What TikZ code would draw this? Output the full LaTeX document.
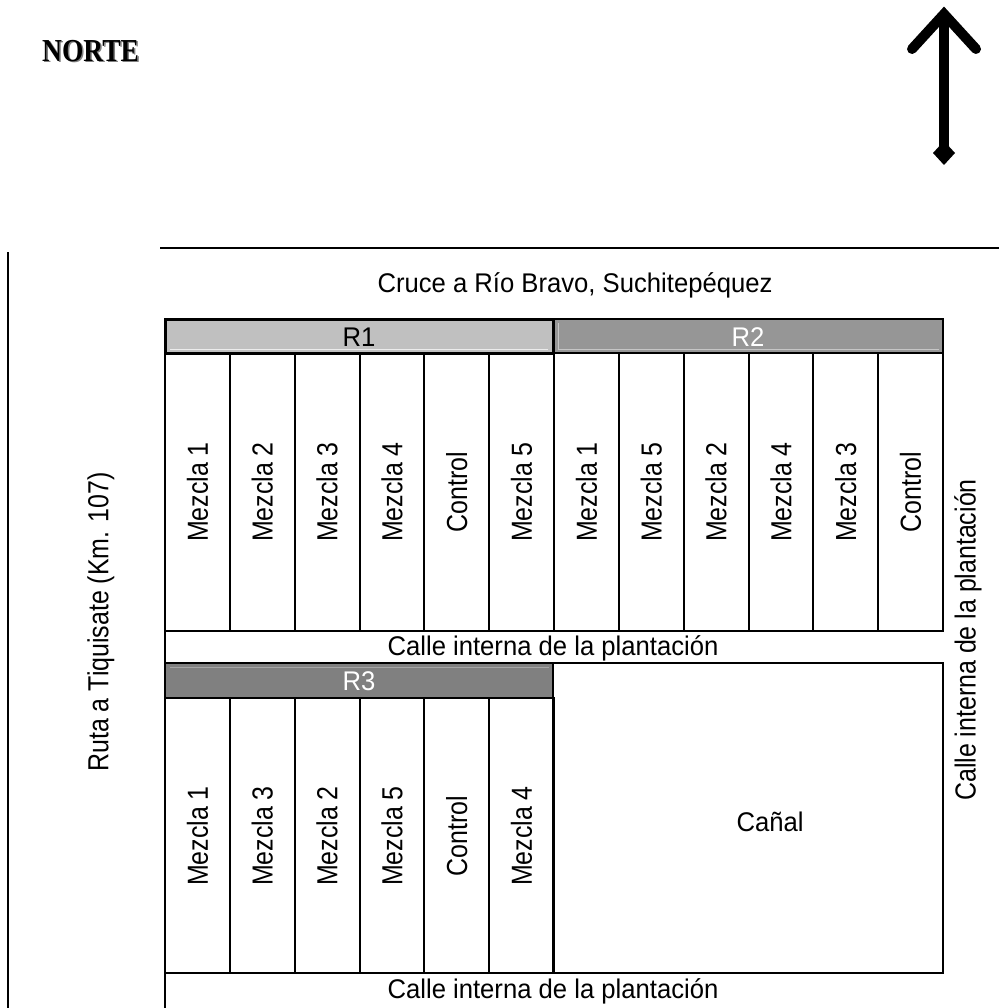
\documentclass[tikz,border=0pt]{standalone}
\usepackage{fontspec}
\setmainfont{Liberation Sans}
\newfontfamily\nortefont{Liberation Serif}
\newcommand{\vlab}[1]{\scalebox{0.86}[1]{#1}}
\newcommand{\hlab}[1]{\scalebox{0.95}[1]{#1}}
\newcommand{\nlab}[1]{\scalebox{0.86}[1]{#1}}
\begin{document}
\begin{tikzpicture}[x=1pt,y=-1pt,
  cell/.style={draw=black, line width=2pt},
  lbl/.style={font=\fontsize{29}{32}\selectfont, rotate=90, inner sep=0pt},
  txt/.style={font=\fontsize{27}{30}\selectfont, inner sep=0pt},
  hdr/.style={font=\fontsize{27}{30}\selectfont, inner sep=0pt},
  bevel/.style={line width=1pt},
  line join=miter]
\definecolor{rone}{HTML}{C0C0C0}
\definecolor{rtwo}{HTML}{969696}
\definecolor{rthree}{HTML}{808080}
\useasboundingbox (0,0) rectangle (999,1008);
\fill[white] (0,0) rectangle (999,1008);
% north
\node[inner sep=0pt, anchor=west, text=gray, font=\nortefont\bfseries\fontsize{32}{34}\selectfont] (nortesh) at (43.5,52.5) {\nlab{NORTE}};
\node[inner sep=0pt, anchor=west, font=\nortefont\bfseries\fontsize{32}{34}\selectfont] (norte) at (42,51) {\nlab{NORTE}};
\coordinate (ntip) at (944,14);
\coordinate (nbase) at (944,150);
\draw[line width=10pt] (nbase) -- (ntip);
\draw[line width=10pt, line cap=round, line join=miter] (912,49) -- (ntip) -- (976,49);
\fill (944,141) -- (955,153) -- (944,165) -- (933,153) -- cycle;
% roads
\draw[line width=2pt] (160,248) -- (999,248);
\draw[line width=1.5pt] (8,252) -- (8,1008);
\node[txt] (cruce) at (575,285) {\hlab{Cruce a Río Bravo, Suchitepéquez}};
\node[lbl] (ruta) at (101,622) {\vlab{Ruta a Tiquisate (Km. 107)}};
\node[lbl] (calleR) at (968,640) {\vlab{Calle interna de la plantación}};
% top row
\foreach \l [count=\i from 0] in {Mezcla 1,Mezcla 2,Mezcla 3,Mezcla 4,Control,Mezcla 5,Mezcla 1,Mezcla 5,Mezcla 2,Mezcla 4,Mezcla 3,Control} {
  \pgfmathsetmacro\xa{165+\i*64.833}
  \draw[cell] (\xa,353) rectangle ++(64.833,278);
  \node[lbl] (t\i) at (\xa+32.4,492) {\vlab{\l}};
}
% bottom row
\foreach \l [count=\i from 0] in {Mezcla 1,Mezcla 3,Mezcla 2,Mezcla 5,Control,Mezcla 4} {
  \pgfmathsetmacro\xa{165+\i*64.833}
  \draw[cell] (\xa,698) rectangle ++(64.833,275);
  \node[lbl] (b\i) at (\xa+32.4,836) {\vlab{\l}};
}
% headers
\draw[cell, fill=rtwo] (553,319) rectangle (943,353);
\draw[bevel, color=gray!45] (558,323) -- (558,349) -- (939,349);
\node[hdr, text=white] (r2) at (748,337) {\hlab{R2}};
\draw[cell, fill=rthree] (165,663) rectangle (553,698);
\draw[bevel, color=gray!70] (170,667) -- (549,667);
\node[hdr, text=white] (r3) at (359,681) {\hlab{R3}};
\draw[black, line width=3pt, fill=rone] (165,319) rectangle (553,353);
\draw[bevel, color=gray!15] (170,349) -- (548,349);
\node[hdr] (r1) at (359,337) {\hlab{R1}};
% calle middle
\draw[cell] (943,631) -- (165,631) -- (165,663) -- (943,663);
\node[txt] (calle1) at (553,648) {\hlab{Calle interna de la plantación}};
% canal
\draw[cell] (553,663) rectangle (943,973);
\node[txt] (canal) at (770,822) {\hlab{Cañal}};
% calle bottom
\draw[cell] (943,973) -- (165,973) -- (165,1008);
\node[txt] (calle2) at (553,991) {\hlab{Calle interna de la plantación}};
\end{tikzpicture}
\end{document}
